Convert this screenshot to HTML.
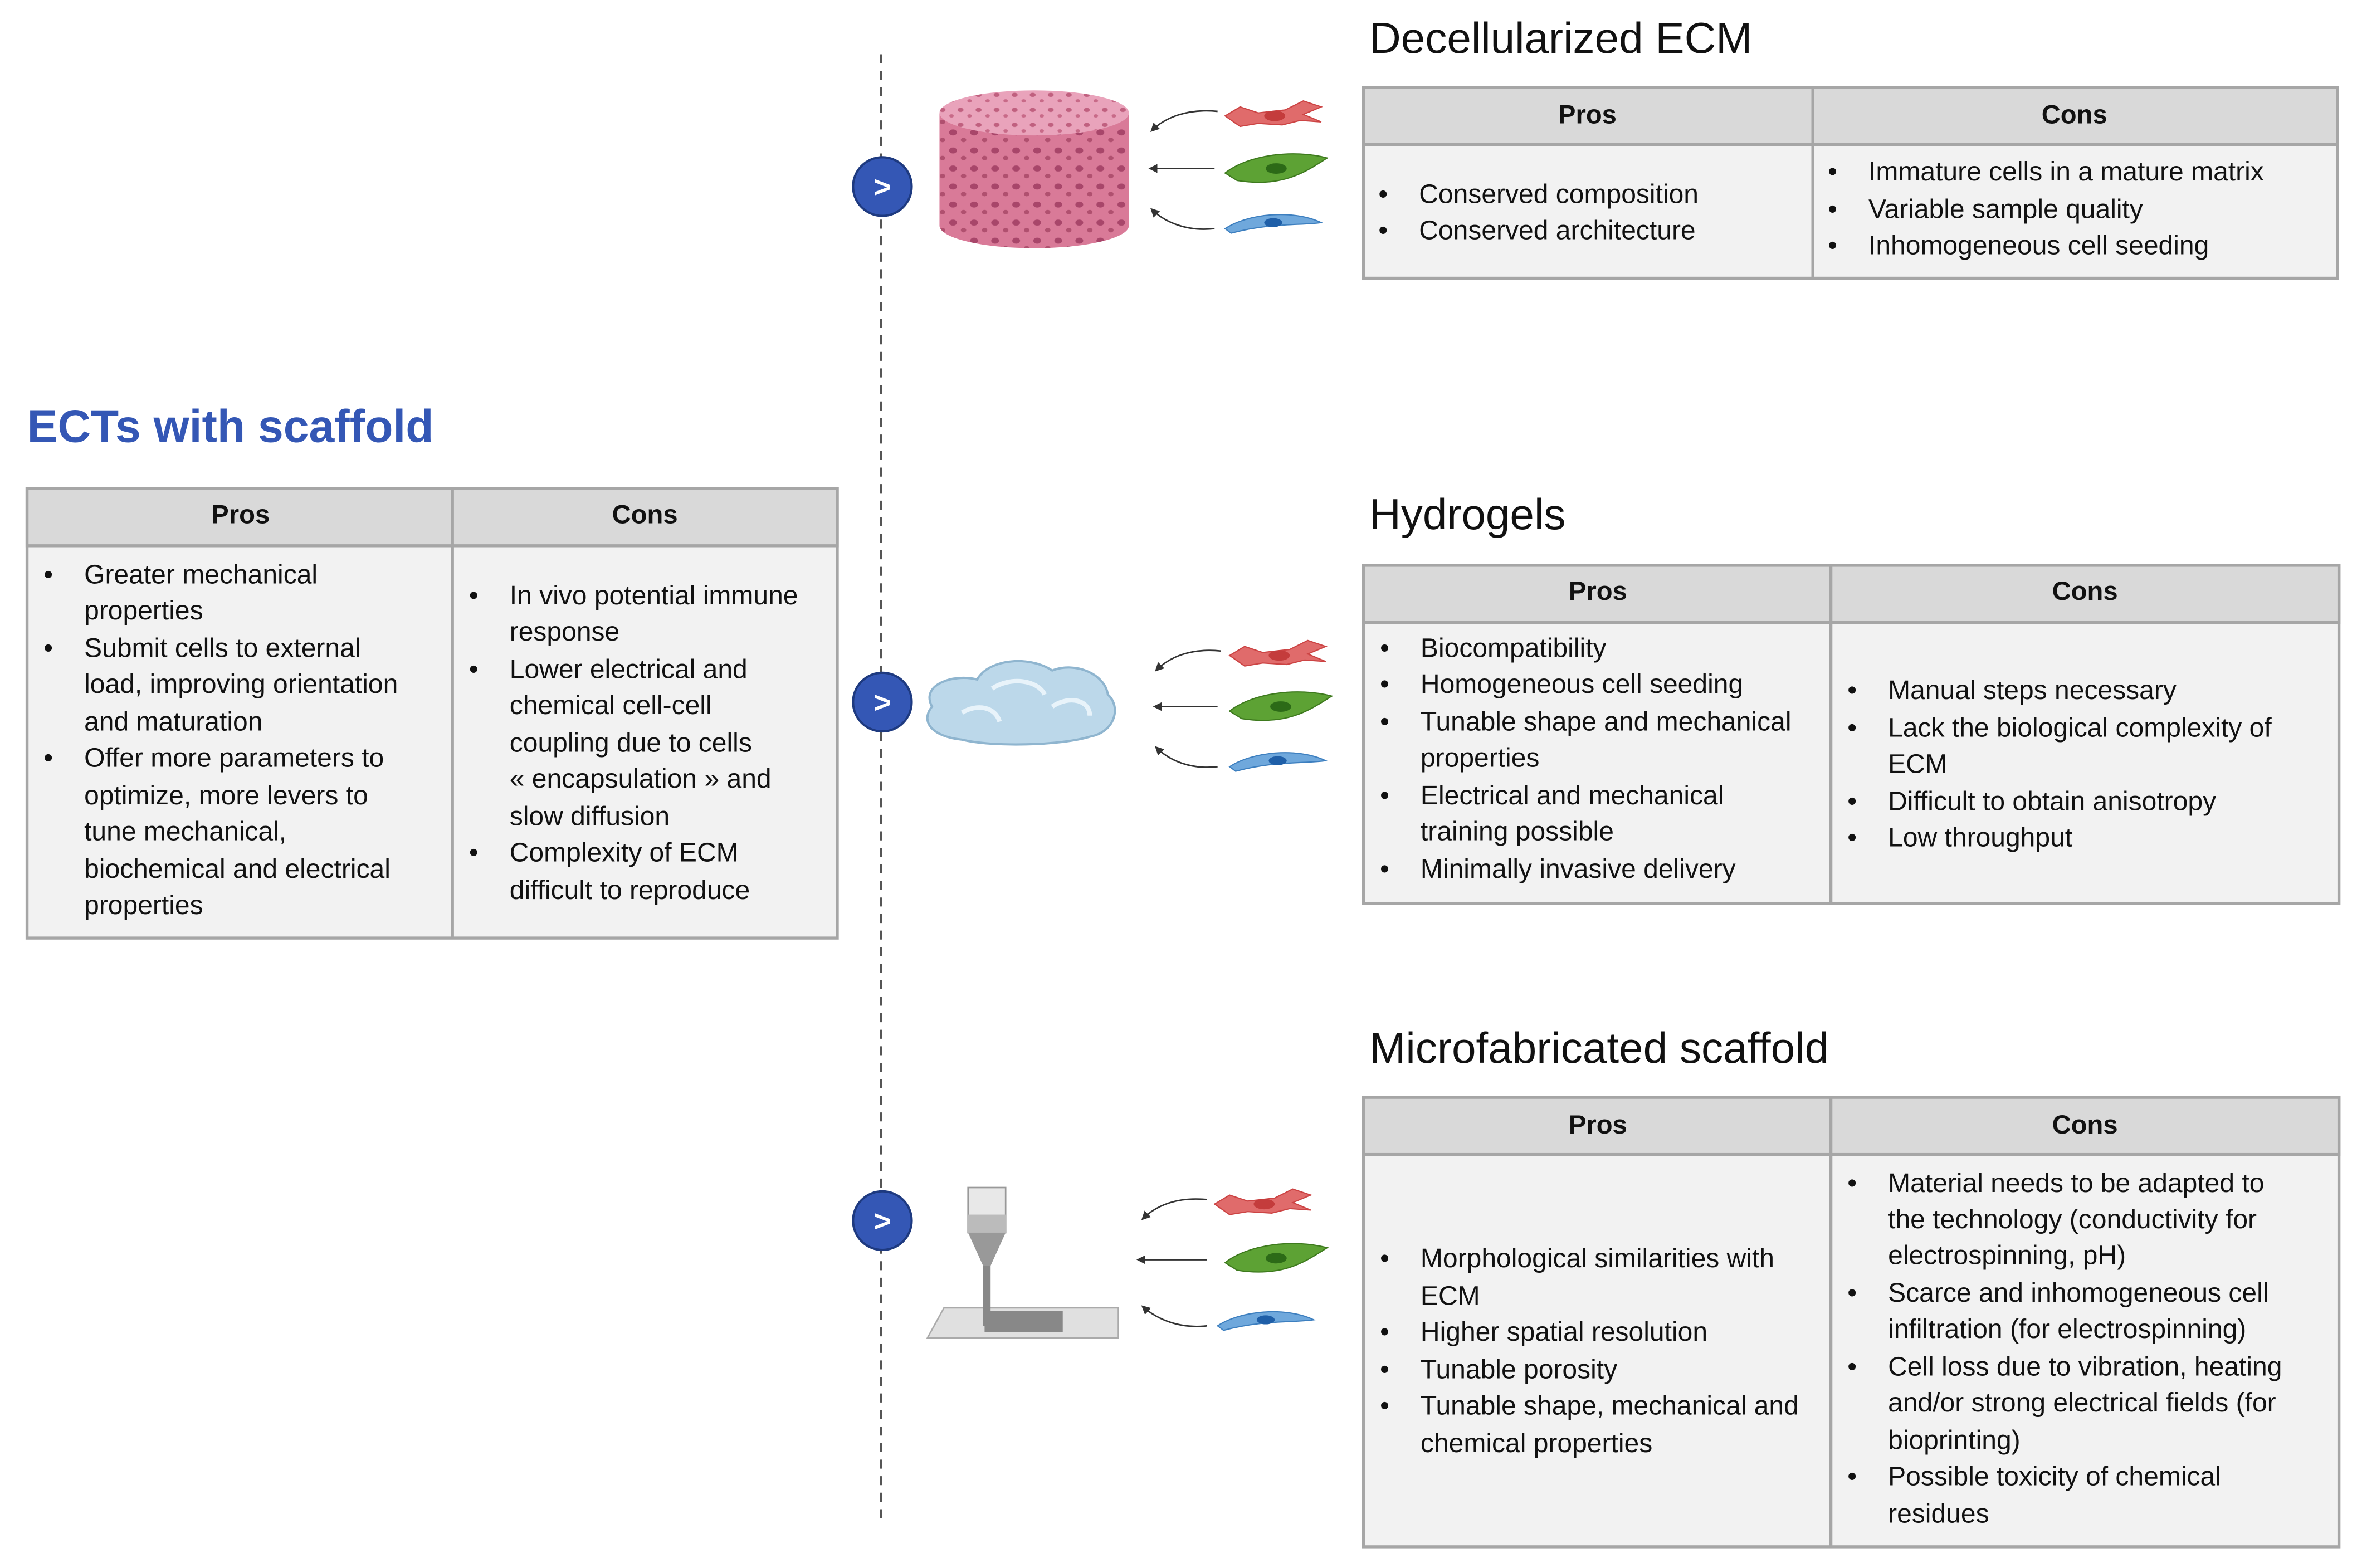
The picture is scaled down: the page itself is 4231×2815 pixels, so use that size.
<!DOCTYPE html>
<html><head><meta charset="utf-8"><style>
html,body{margin:0;padding:0;background:#fff;}
svg{display:block;}
text{font-family:"Liberation Sans",sans-serif;}
.t{font-size:17.8px;fill:#111;}
.h{font-size:17.5px;font-weight:bold;fill:#111;}
.ti{font-size:29px;fill:#111;}
</style></head><body>
<svg width="4231" height="2815" viewBox="0 0 1568 1043" xmlns="http://www.w3.org/2000/svg">
<defs>
<pattern id="holes" width="14" height="12" patternUnits="userSpaceOnUse">
<rect width="14" height="12" fill="#d97a98"/>
<ellipse cx="4" cy="4" rx="2.6" ry="2" fill="#a8466a"/>
<ellipse cx="11" cy="9" rx="1.8" ry="1.5" fill="#b0506f"/>
</pattern>
<pattern id="holes2" width="12" height="10" patternUnits="userSpaceOnUse">
<rect width="12" height="10" fill="#e9a3bb"/>
<ellipse cx="3" cy="3" rx="2" ry="1.4" fill="#c0607f"/>
<ellipse cx="9" cy="7" rx="1.5" ry="1.1" fill="#c86a88"/>
</pattern>
<marker id="ah" markerWidth="6" markerHeight="6" refX="5" refY="3" orient="auto"><path d="M0,0 L6,3 L0,6 z" fill="#333"/></marker>
<g id="red"><path d="M0,6 L10,0 L22,4 L40,2 L52,-4 L64,0 L52,5 L64,10 L50,9 L38,12 L22,11 L10,13 Z" fill="#e06b6b" stroke="#c44" stroke-width="0.8"/><ellipse cx="33" cy="6" rx="7" ry="3.5" fill="#c43c3c"/></g>
<g id="green"><path d="M0,10 C15,-2 45,-6 68,0 C55,8 40,20 8,15 Z" fill="#5da234" stroke="#3e7a1e" stroke-width="0.8"/><ellipse cx="34" cy="7" rx="7" ry="3.5" fill="#2c6a17"/></g>
<g id="blue"><path d="M0,10 C15,0 45,-3 64,6 C50,8 30,6 4,13 Z" fill="#6fa8dc" stroke="#3d7fbf" stroke-width="0.8"/><ellipse cx="32" cy="6" rx="6" ry="3" fill="#1f5fa8"/></g>
<g id="circ"><circle r="19.5" fill="#3457b5" stroke="#1e3a80" stroke-width="1.5"/><text y="7" text-anchor="middle" style="font-size:20px;font-weight:bold;fill:#fff">&gt;</text></g>
</defs>

<line x1="586" y1="36" x2="586" y2="1010" stroke="#555" stroke-width="1.6" stroke-dasharray="6,5"/>
<use href="#circ" x="587" y="124"/>
<use href="#circ" x="587" y="467"/>
<use href="#circ" x="587" y="812"/>

<text x="18" y="294" style="font-size:30.5px;font-weight:bold;fill:#3457b5">ECTs with scaffold</text>
<rect x="18" y="325" width="539" height="299" fill="#f2f2f2" stroke="#a6a6a6" stroke-width="2"/>
<rect x="18" y="325" width="539" height="38" fill="#d9d9d9" stroke="#a6a6a6" stroke-width="2"/>
<line x1="301" y1="325" x2="301" y2="624" stroke="#a6a6a6" stroke-width="2"/>
<text class="h" x="160" y="348" text-anchor="middle">Pros</text>
<text class="h" x="429" y="348" text-anchor="middle">Cons</text>
<g class="t">
<text x="29" y="388">•</text><text x="56" y="388">Greater mechanical</text>
<text x="56" y="412">properties</text>
<text x="29" y="437">•</text><text x="56" y="437">Submit cells to external</text>
<text x="56" y="461">load, improving orientation</text>
<text x="56" y="486">and maturation</text>
<text x="29" y="510">•</text><text x="56" y="510">Offer more parameters to</text>
<text x="56" y="535">optimize, more levers to</text>
<text x="56" y="559">tune mechanical,</text>
<text x="56" y="584">biochemical and electrical</text>
<text x="56" y="608">properties</text>
<text x="312" y="402">•</text><text x="339" y="402">In vivo potential immune</text>
<text x="339" y="426">response</text>
<text x="312" y="451">•</text><text x="339" y="451">Lower electrical and</text>
<text x="339" y="475">chemical cell-cell</text>
<text x="339" y="500">coupling due to cells</text>
<text x="339" y="524">« encapsulation » and</text>
<text x="339" y="549">slow diffusion</text>
<text x="312" y="573">•</text><text x="339" y="573">Complexity of ECM</text>
<text x="339" y="598">difficult to reproduce</text>
</g>

<text class="ti" x="911" y="35">Decellularized ECM</text>
<rect x="907" y="58" width="648" height="127" fill="#f2f2f2" stroke="#a6a6a6" stroke-width="2"/>
<rect x="907" y="58" width="648" height="38" fill="#d9d9d9" stroke="#a6a6a6" stroke-width="2"/>
<line x1="1206" y1="58" x2="1206" y2="185" stroke="#a6a6a6" stroke-width="2"/>
<text class="h" x="1056" y="82" text-anchor="middle">Pros</text>
<text class="h" x="1380" y="82" text-anchor="middle">Cons</text>
<g class="t">
<text x="917" y="135">•</text><text x="944" y="135">Conserved composition</text>
<text x="917" y="159">•</text><text x="944" y="159">Conserved architecture</text>
<text x="1216" y="120">•</text><text x="1243" y="120">Immature cells in a mature matrix</text>
<text x="1216" y="145">•</text><text x="1243" y="145">Variable sample quality</text>
<text x="1216" y="169">•</text><text x="1243" y="169">Inhomogeneous cell seeding</text>
</g>

<text class="ti" x="911" y="352">Hydrogels</text>
<rect x="907" y="376" width="649" height="225" fill="#f2f2f2" stroke="#a6a6a6" stroke-width="2"/>
<rect x="907" y="376" width="649" height="38" fill="#d9d9d9" stroke="#a6a6a6" stroke-width="2"/>
<line x1="1218" y1="376" x2="1218" y2="601" stroke="#a6a6a6" stroke-width="2"/>
<text class="h" x="1063" y="399" text-anchor="middle">Pros</text>
<text class="h" x="1387" y="399" text-anchor="middle">Cons</text>
<g class="t">
<text x="918" y="437">•</text><text x="945" y="437">Biocompatibility</text>
<text x="918" y="461">•</text><text x="945" y="461">Homogeneous cell seeding</text>
<text x="918" y="486">•</text><text x="945" y="486">Tunable shape and mechanical</text>
<text x="945" y="510">properties</text>
<text x="918" y="535">•</text><text x="945" y="535">Electrical and mechanical</text>
<text x="945" y="559">training possible</text>
<text x="918" y="584">•</text><text x="945" y="584">Minimally invasive delivery</text>
<text x="1229" y="465">•</text><text x="1256" y="465">Manual steps necessary</text>
<text x="1229" y="490">•</text><text x="1256" y="490">Lack the biological complexity of</text>
<text x="1256" y="514">ECM</text>
<text x="1229" y="539">•</text><text x="1256" y="539">Difficult to obtain anisotropy</text>
<text x="1229" y="563">•</text><text x="1256" y="563">Low throughput</text>
</g>

<text class="ti" x="911" y="707">Microfabricated scaffold</text>
<rect x="907" y="730" width="649" height="299" fill="#f2f2f2" stroke="#a6a6a6" stroke-width="2"/>
<rect x="907" y="730" width="649" height="38" fill="#d9d9d9" stroke="#a6a6a6" stroke-width="2"/>
<line x1="1218" y1="730" x2="1218" y2="1029" stroke="#a6a6a6" stroke-width="2"/>
<text class="h" x="1063" y="754" text-anchor="middle">Pros</text>
<text class="h" x="1387" y="754" text-anchor="middle">Cons</text>
<g class="t">
<text x="918" y="843">•</text><text x="945" y="843">Morphological similarities with</text>
<text x="945" y="868">ECM</text>
<text x="918" y="892">•</text><text x="945" y="892">Higher spatial resolution</text>
<text x="918" y="917">•</text><text x="945" y="917">Tunable porosity</text>
<text x="918" y="941">•</text><text x="945" y="941">Tunable shape, mechanical and</text>
<text x="945" y="966">chemical properties</text>
<text x="1229" y="793">•</text><text x="1256" y="793">Material needs to be adapted to</text>
<text x="1256" y="817">the technology (conductivity for</text>
<text x="1256" y="841">electrospinning, pH)</text>
<text x="1229" y="866">•</text><text x="1256" y="866">Scarce and inhomogeneous cell</text>
<text x="1256" y="890">infiltration (for electrospinning)</text>
<text x="1229" y="915">•</text><text x="1256" y="915">Cell loss due to vibration, heating</text>
<text x="1256" y="939">and/or strong electrical fields (for</text>
<text x="1256" y="964">bioprinting)</text>
<text x="1229" y="988">•</text><text x="1256" y="988">Possible toxicity of chemical</text>
<text x="1256" y="1013">residues</text>
</g>

<path d="M625,75 L625,150 A63,15 0 0 0 751,150 L751,75 Z" fill="url(#holes)"/>
<ellipse cx="688" cy="75" rx="63" ry="15" fill="url(#holes2)"/>
<use href="#red" x="815" y="71"/>
<use href="#green" x="815" y="105"/>
<use href="#blue" x="815" y="142"/>
<path d="M810,74 C790,72 775,78 766,87" fill="none" stroke="#333" stroke-width="1" marker-end="url(#ah)"/>
<path d="M808,112 L765,112" fill="none" stroke="#333" stroke-width="1" marker-end="url(#ah)"/>
<path d="M808,152 C790,154 775,148 766,139" fill="none" stroke="#333" stroke-width="1" marker-end="url(#ah)"/>

<path d="M620,470 C612,455 635,448 650,452 C658,438 685,436 700,446 C715,440 735,448 737,462 C746,470 742,487 725,490 C705,496 660,497 640,492 C620,490 612,480 620,470 Z" fill="#bcd8ea" stroke="#8fb5cf" stroke-width="1.5"/>
<path d="M660,458 C672,450 690,452 695,462 M700,470 C712,462 725,466 725,476 M640,474 C650,468 662,470 665,480" fill="none" stroke="#e8f3fa" stroke-width="3"/>
<use href="#red" x="818" y="430"/>
<use href="#green" x="818" y="463"/>
<use href="#blue" x="818" y="500"/>
<path d="M812,433 C792,431 778,437 769,446" fill="none" stroke="#333" stroke-width="1" marker-end="url(#ah)"/>
<path d="M810,470 L768,470" fill="none" stroke="#333" stroke-width="1" marker-end="url(#ah)"/>
<path d="M810,510 C792,512 778,506 769,497" fill="none" stroke="#333" stroke-width="1" marker-end="url(#ah)"/>

<path d="M617,890 L628,870 L744,870 L744,890 Z" fill="#e0e0e0" stroke="#aaa" stroke-width="1"/>
<rect x="655" y="872" width="52" height="14" fill="#888"/>
<rect x="644" y="790" width="25" height="30" fill="#e8e8e8" stroke="#999" stroke-width="1"/>
<rect x="644" y="808" width="25" height="12" fill="#bbb"/>
<path d="M644,820 L669,820 L659,842 L654,842 Z" fill="#999"/>
<rect x="654" y="842" width="5" height="40" fill="#888"/>
<use href="#red" x="808" y="795"/>
<use href="#green" x="815" y="830"/>
<use href="#blue" x="810" y="872"/>
<path d="M803,798 C783,796 769,802 760,811" fill="none" stroke="#333" stroke-width="1" marker-end="url(#ah)"/>
<path d="M803,838 L757,838" fill="none" stroke="#333" stroke-width="1" marker-end="url(#ah)"/>
<path d="M803,882 C785,884 770,878 760,869" fill="none" stroke="#333" stroke-width="1" marker-end="url(#ah)"/>
</svg>
</body></html>
